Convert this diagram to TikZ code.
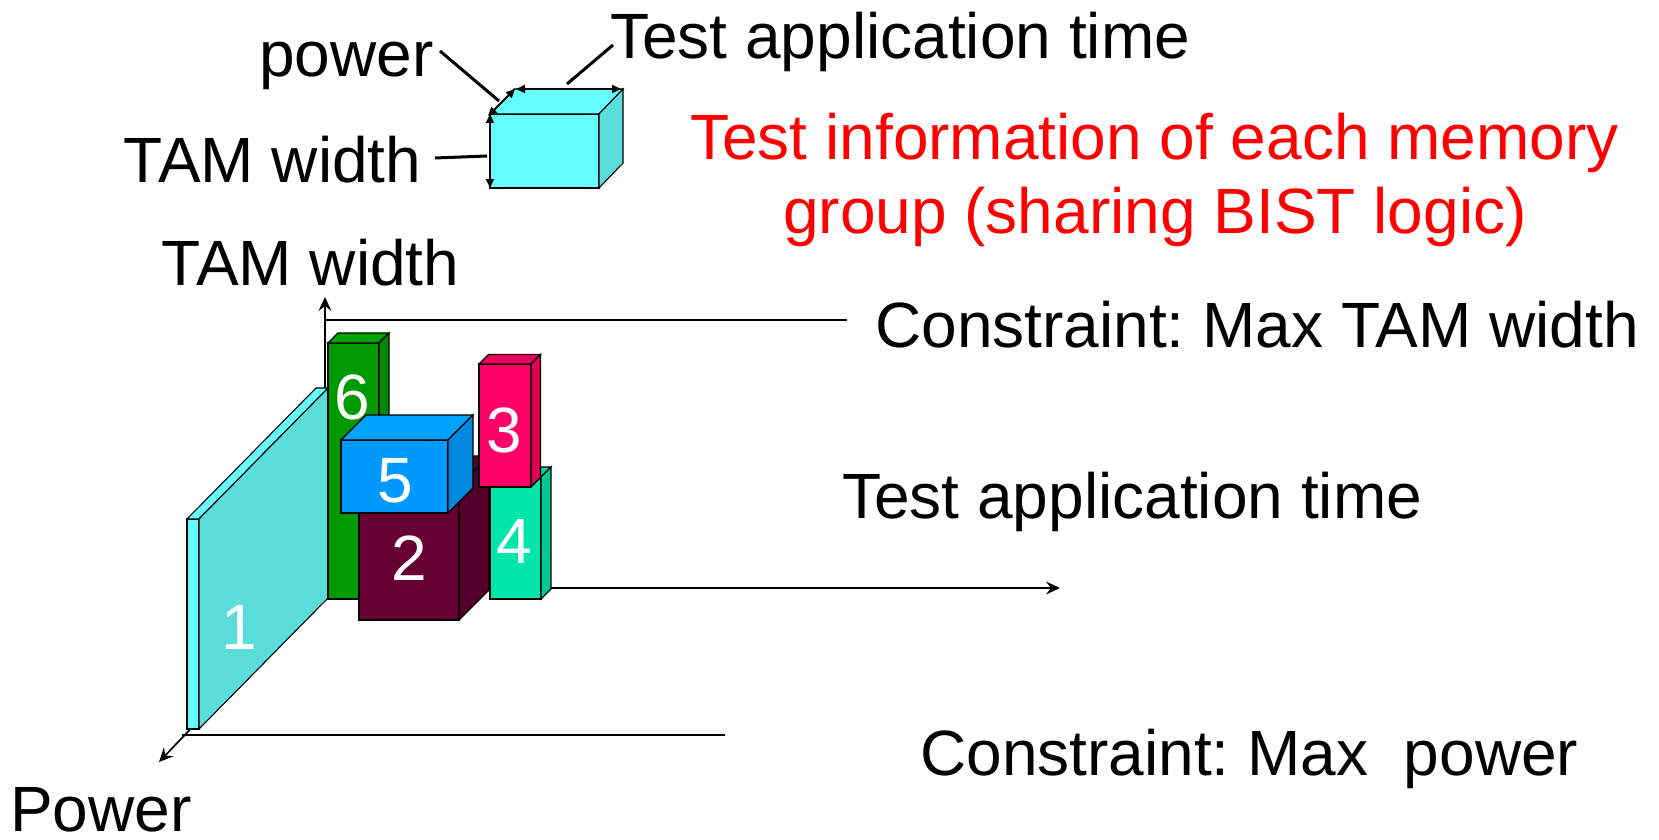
\documentclass[tikz,border=0pt]{standalone}
\usepackage{fontspec}
\setmainfont{Liberation Sans}
\usetikzlibrary{arrows.meta}

\definecolor{cyanF}{HTML}{66FFFF}
\definecolor{cyanS}{HTML}{5BDDDB}
\definecolor{grnF}{HTML}{009900}
\definecolor{grnT}{HTML}{00A400}
\definecolor{grnS}{HTML}{008800}
\definecolor{bluF}{HTML}{0099FF}
\definecolor{bluT}{HTML}{00A2FF}
\definecolor{bluS}{HTML}{0088DD}
\definecolor{marF}{HTML}{660033}
\definecolor{marT}{HTML}{5C002E}
\definecolor{marS}{HTML}{55002A}
\definecolor{pnkF}{HTML}{FF0066}
\definecolor{pnkT}{HTML}{EE0060}
\definecolor{pnkS}{HTML}{DD0055}
\definecolor{tealF}{HTML}{00E5AA}
\definecolor{tealT}{HTML}{00D8A0}
\definecolor{tealS}{HTML}{00C896}

% oblique box: front bottom-left (#1,#2), width #3, height #4,
% depth offset (#5 right, #6 up), colours front/top/side
\newcommand\cuboid[9]{%
  \draw[face, fill=#7] (#1,#2) rectangle ++(#3,-#4);
  \draw[face, fill=#8] (#1,#2) ++(0,-#4) -- ++(#5,-#6) -- ++(#3,0) -- ++(-#5,#6) -- cycle;
  \draw[face, fill=#9] (#1,#2) ++(#3,0) -- ++(#5,-#6) -- ++(0,-#4) -- ++(-#5,#6) -- cycle;
}

\begin{document}
\frenchspacing
\begin{tikzpicture}[x=1pt,y=-1pt, line join=miter,
  face/.style={draw=black, line width=1.1pt},
  lbl/.style={font=\fontsize{64}{74}\selectfont, inner sep=0pt, anchor=base west},
  num/.style={font=\fontsize{64}{74}\selectfont, inner sep=0pt, text=white},
  leader/.style={line width=3pt},
  dim/.style={line width=2pt, {Triangle[length=9pt,width=8pt]}-{Triangle[length=9pt,width=8pt]}},
  axis/.style={line width=1.6pt, -{Stealth[length=14pt,width=13pt,inset=5pt]}},
]
\useasboundingbox (0,0) rectangle (1659,840);

% legend cube with its three dimensions
\cuboid{490}{188}{109}{74}{24}{25}{cyanF}{cyanF}{cyanS}
\draw[dim] (490,188) -- (490,114);
\draw[dim] (488,116) -- (515,89);
\draw[dim] (516,89) -- (621,89);
\draw[leader] (440,51) -- (499,101);
\draw[leader] (613,45) -- (567,84);
\draw[leader] (435,158) -- (487,156);

\node[lbl] (tpower) at (259,77) {power};
\node[lbl] (ttime) at (610,59) {Test application time};
\node[lbl] (ttam) at (123.5,182) {TAM width};
\node[lbl, text=red, anchor=base] (info1) at (1154.5,159) {Test information of each memory};
\node[lbl, text=red, anchor=base] (info2) at (1155,233) {group (sharing BIST logic)};

% axes and constraint lines
\coordinate (O) at (325,588);
\coordinate (ytip) at (325,297);
\coordinate (xtip) at (1060,588);
\coordinate (ztip) at (159,762);
\draw[axis, line width=1.4pt] (O) -- (ytip);
\draw[axis, line width=2.2pt] (O) -- (xtip);
\draw[axis, line width=1.7pt] (O) -- (ztip);
\draw[line width=1.6pt] (325,320) -- (847,320);
\draw[line width=2.2pt] (182,735) -- (725,735);

% scheduled memory groups
\cuboid{187}{729}{12}{210}{129}{131}{cyanF}{cyanF}{cyanS}
\cuboid{328}{599}{51}{256}{10}{10}{grnF}{grnT}{grnS}
\cuboid{359}{620}{100}{134}{30}{30}{marF}{marT}{marS}
\cuboid{341}{513}{107}{73}{25}{25}{bluF}{bluT}{bluS}
\cuboid{490}{599}{51}{122}{10}{10}{tealF}{tealT}{tealS}
\cuboid{479}{487}{52}{123}{9.5}{9.5}{pnkF}{pnkT}{pnkS}

\node[num] (n1) at (239.5,627) {1};
\node[num] (n6) at (352.5,397) {6};
\node[num] (n5) at (395,481) {5};
\node[num] (n2) at (409,558) {2};
\node[num] (n4) at (514,541) {4};
\node[num] (n3) at (504,430) {3};

\node[lbl] (ytam) at (161.5,285) {TAM width};
\node[lbl] (cmaxtam) at (875,347) {Constraint: Max TAM width};
\node[lbl] (xtime) at (842,518) {Test application time};
\node[lbl] (cmaxp) at (920,775) {Constraint: Max\ \ power};
\node[lbl] (zpow) at (10,831) {Power};
\end{tikzpicture}
\end{document}
